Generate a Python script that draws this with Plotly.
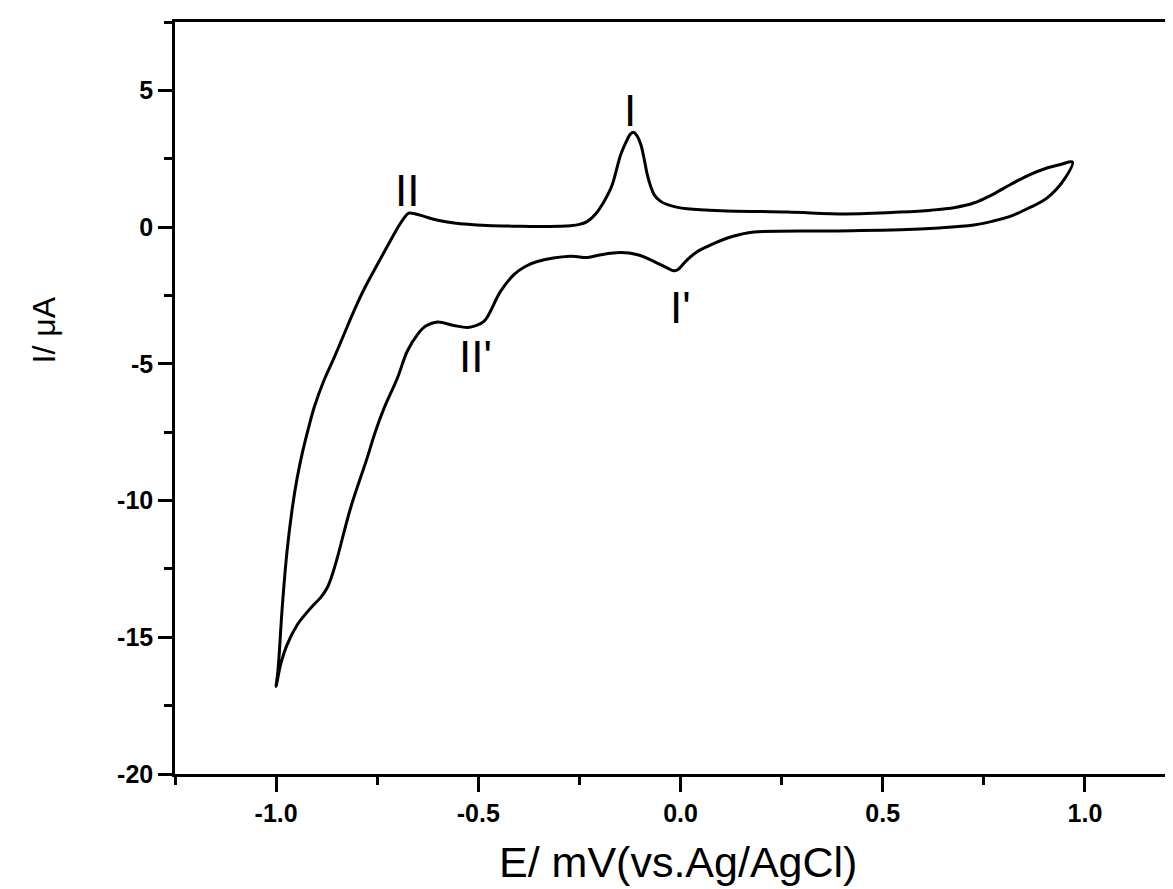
import plotly.graph_objects as go

# forward (anodic) scan, starting at the negative vertex
e_fwd = [-1.0, -0.996, -0.993, -0.985, -0.973, -0.960, -0.948, -0.935, -0.920, -0.905,
         -0.882, -0.857, -0.832, -0.808, -0.780, -0.750, -0.722, -0.700, -0.685, -0.672,
         -0.655, -0.634, -0.600, -0.560, -0.478, -0.400, -0.354, -0.300, -0.272, -0.250,
         -0.230, -0.210, -0.189, -0.170, -0.148, -0.135, -0.124, -0.116, -0.108, -0.098,
         -0.090, -0.082, -0.074, -0.065, -0.050, -0.032, -0.010, 0.017, 0.100, 0.265,
         0.408, 0.544, 0.620, 0.679, 0.725, 0.770, 0.815, 0.860, 0.906, 0.942, 0.969]
i_fwd = [-16.8, -16.3, -15.76, -13.94, -11.86, -10.28, -9.18, -8.25, -7.35, -6.55,
         -5.62, -4.79, -3.92, -3.08, -2.20, -1.38, -0.62, -0.04, 0.30, 0.51,
         0.48, 0.39, 0.25, 0.15, 0.06, 0.03, 0.02, 0.03, 0.05, 0.10,
         0.21, 0.48, 0.94, 1.50, 2.65, 3.10, 3.40, 3.47, 3.35, 3.01,
         2.50, 1.91, 1.50, 1.18, 0.95, 0.82, 0.73, 0.67, 0.60, 0.55,
         0.48, 0.55, 0.62, 0.72, 0.88, 1.18, 1.55, 1.89, 2.16, 2.30, 2.38]

# reverse (cathodic) scan back to the negative vertex
e_rev = [0.951, 0.906, 0.860, 0.815, 0.770, 0.725, 0.640, 0.544, 0.363, 0.182,
         0.150, 0.116, 0.075, 0.042, 0.017, -0.007, -0.017, -0.032, -0.065, -0.106,
         -0.148, -0.197, -0.230, -0.272, -0.354, -0.385, -0.412, -0.445, -0.486, -0.510,
         -0.527, -0.560, -0.601, -0.630, -0.651, -0.676, -0.700, -0.733, -0.755, -0.775,
         -0.816, -0.849, -0.862, -0.874, -0.890, -0.907, -0.930, -0.948, -0.973, -0.989,
         -1.0]
i_rev = [1.79, 1.06, 0.69, 0.39, 0.21, 0.08, -0.03, -0.10, -0.14, -0.18,
         -0.26, -0.40, -0.65, -0.89, -1.19, -1.56, -1.60, -1.50, -1.26, -1.01,
         -0.93, -1.01, -1.11, -1.07, -1.26, -1.45, -1.74, -2.35, -3.45, -3.62,
         -3.67, -3.60, -3.47, -3.62, -3.94, -4.55, -5.52, -6.62, -7.50, -8.45,
         -10.28, -12.11, -12.75, -13.20, -13.55, -13.81, -14.20, -14.55, -15.28, -16.01,
         -16.8]

peak_names = ["I", "II", "I'", "II'"]
peak_e = [-0.124, -0.676, 0.0, -0.507]
peak_i = [4.28, 1.35, -2.93, -4.72]

label_font = dict(family="Liberation Sans, Arial", color="black")

fig = go.Figure()
fig.add_trace(go.Scatter(x=e_fwd + e_rev, y=i_fwd + i_rev, mode="lines",
                         line=dict(color="black", width=3, shape="spline", smoothing=1.0),
                         showlegend=False, hoverinfo="skip"))

for name, xe, yi in zip(peak_names, peak_e, peak_i):
    fig.add_annotation(x=xe, y=yi, text=name, showarrow=False,
                       font=dict(size=44, **label_font))

fig.add_annotation(xref="paper", yref="paper", x=-0.150, y=0.59, text="I/ μA",
                   textangle=-90, showarrow=False, font=dict(size=32, **label_font))
fig.add_annotation(xref="paper", yref="paper", x=0.5, y=-0.117, text="E/ mV(vs.Ag/AgCl)",
                   showarrow=False, yanchor="middle", font=dict(size=43, **label_font))

tick_font = dict(family="Liberation Sans, Arial", size=25, color="black", weight="bold")

fig.update_xaxes(range=[-1.25, 1.2376], tickvals=[-1.0, -0.5, 0.0, 0.5, 1.0],
                 ticktext=["-1.0", "-0.5", "0.0", "0.5", "1.0"],
                 ticks="outside", ticklen=15, tickwidth=2.5, tickcolor="black",
                 minor=dict(dtick=0.25, tick0=0, ticks="outside", ticklen=8,
                            tickwidth=2.5, tickcolor="black", showgrid=False),
                 showline=True, linewidth=2.5, linecolor="black", mirror=True,
                 showgrid=False, zeroline=False, tickfont=tick_font)
fig.update_yaxes(range=[-20, 7.5], tickvals=[-20, -15, -10, -5, 0, 5],
                 ticktext=["-20", "-15", "-10", "-5", "0", "5"],
                 ticks="outside", ticklen=14, tickwidth=2.5, tickcolor="black",
                 minor=dict(dtick=2.5, tick0=0, ticks="outside", ticklen=8,
                            tickwidth=2.5, tickcolor="black", showgrid=False),
                 showline=True, linewidth=2.5, linecolor="black",
                 showgrid=False, zeroline=False, tickfont=tick_font)

fig.update_layout(width=1173, height=889, plot_bgcolor="white", paper_bgcolor="white",
                  margin=dict(l=167, r=0, t=14, b=123))

fig.write_html("out.html")
